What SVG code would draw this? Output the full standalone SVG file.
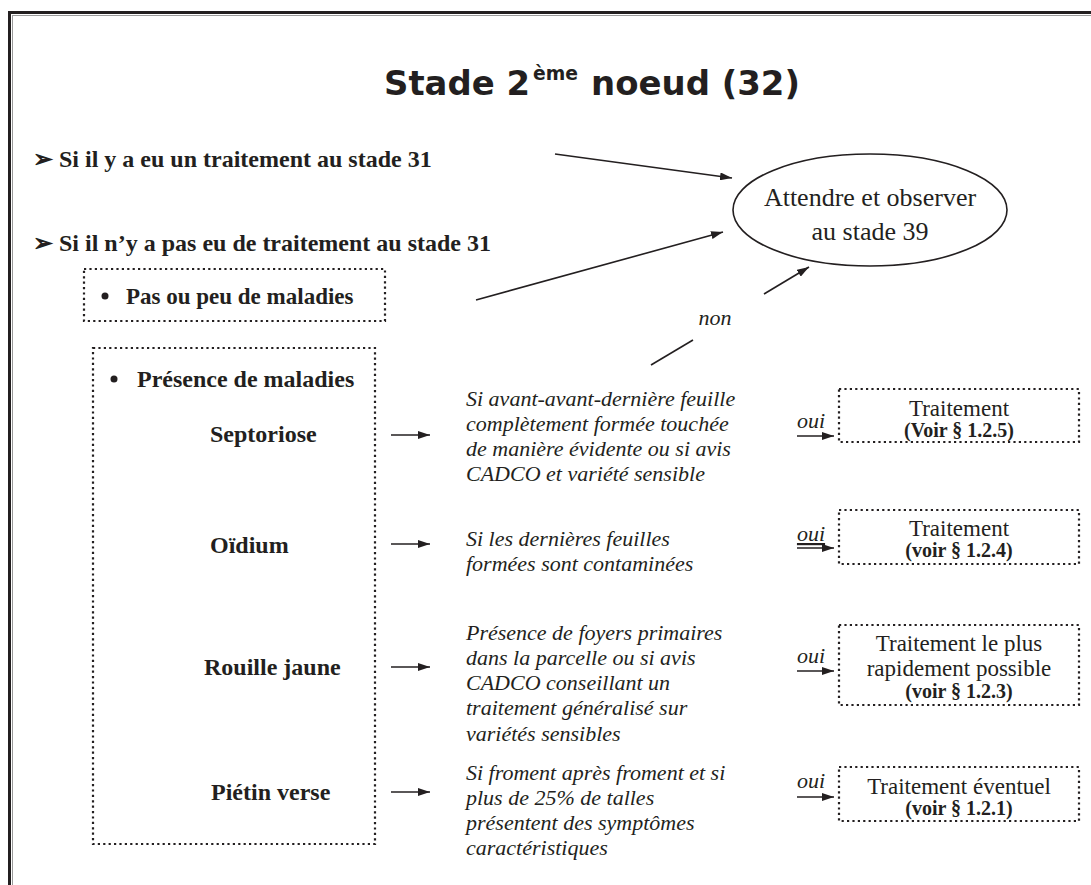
<svg xmlns="http://www.w3.org/2000/svg" width="1091" height="885" viewBox="0 0 1091 885">
<defs>
<style>
text{fill:#231f20}
.ser{font-family:"Liberation Serif","Times New Roman",serif}
.b{font-family:"Liberation Serif","Times New Roman",serif;font-weight:bold}
.it{font-family:"Liberation Serif","Times New Roman",serif;font-style:italic;font-size:22px}
.ttl{font-family:"DejaVu Sans",sans-serif;font-weight:bold}
.dot{fill:none;stroke:#231f20;stroke-width:2.2;stroke-dasharray:2.2 3.2}
.ln{fill:none;stroke:#231f20;stroke-width:1.6}
</style>
<marker id="ah" viewBox="0 0 12 8" refX="12" refY="4" markerWidth="12" markerHeight="8" markerUnits="userSpaceOnUse" orient="auto">
<path d="M0,0 L12,4 L0,8 z" fill="#231f20"/>
</marker>
</defs>
<rect width="1091" height="885" fill="#fff"/>
<g id="frame">
<rect x="9.5" y="12.5" width="1100" height="900" fill="none" stroke="#231f20" stroke-width="3"/>
<rect x="12.5" y="15.5" width="1100" height="900" fill="none" stroke="#9a9a9a" stroke-width="1"/>
</g>
<g id="title">
<text x="384" y="95" class="ttl" font-size="34" textLength="146" lengthAdjust="spacingAndGlyphs">Stade 2</text>
<text x="533" y="80" class="ttl" font-size="19" textLength="45" lengthAdjust="spacingAndGlyphs">ème</text>
<text x="591" y="95" class="ttl" font-size="34" textLength="209" lengthAdjust="spacingAndGlyphs">noeud (32)</text>
</g>
<g id="q1">
<text x="33" y="167" class="b" font-size="24">➢ Si il y a eu un traitement  au stade 31</text>
</g>
<g id="q2">
<text x="33" y="251" class="b" font-size="24">➢ Si il n’y a pas eu de traitement  au stade 31</text>
</g>
<g id="attendre">
<ellipse cx="870" cy="210" rx="137" ry="56" fill="none" stroke="#231f20" stroke-width="1.6"/>
<text x="870" y="206" class="ser" font-size="26" text-anchor="middle">Attendre et observer</text>
<text x="870" y="240" class="ser" font-size="26" text-anchor="middle">au stade 39</text>
</g>
<g id="peu">
<rect x="84" y="269" width="301" height="52" class="dot"/>
<circle cx="105" cy="296" r="3.5" fill="#231f20"/>
<text x="126" y="304" class="b" font-size="23">Pas ou peu de maladies</text>
</g>
<g id="presence">
<rect x="93" y="348" width="282" height="496" class="dot"/>
<circle cx="114" cy="379" r="3.5" fill="#231f20"/>
<text x="137" y="387" class="b" font-size="24">Présence de maladies</text>
<text x="210" y="442" class="b" font-size="24">Septoriose</text>
<text x="210" y="553" class="b" font-size="24">Oïdium</text>
<text x="204" y="675" class="b" font-size="24">Rouille jaune</text>
<text x="211" y="800" class="b" font-size="24">Piétin verse</text>
</g>
<g id="cond-septoriose">
<text class="it" x="466" y="406">Si avant-avant-dernière feuille</text>
<text class="it" x="466" y="431">complètement formée touchée</text>
<text class="it" x="466" y="456">de manière évidente ou si avis</text>
<text class="it" x="466" y="481">CADCO et variété sensible</text>
</g>
<g id="cond-oidium">
<text class="it" x="466" y="546">Si les dernières feuilles</text>
<text class="it" x="466" y="571">formées sont contaminées</text>
</g>
<g id="cond-rouille">
<text class="it" x="466" y="640">Présence de foyers primaires</text>
<text class="it" x="466" y="665">dans la parcelle ou si avis</text>
<text class="it" x="466" y="690">CADCO conseillant un</text>
<text class="it" x="466" y="715">traitement généralisé sur</text>
<text class="it" x="466" y="741">variétés sensibles</text>
</g>
<g id="cond-pietin">
<text class="it" x="466" y="780">Si froment après froment et si</text>
<text class="it" x="466" y="805">plus de 25% de talles</text>
<text class="it" x="466" y="830">présentent des symptômes</text>
<text class="it" x="466" y="855">caractéristiques</text>
</g>
<g id="t-septoriose">
<rect x="839" y="389" width="240" height="53" class="dot"/>
<text x="959" y="416" class="ser" font-size="23" text-anchor="middle">Traitement</text>
<text x="959" y="437" class="b" font-size="20" text-anchor="middle">(Voir § 1.2.5)</text>
</g>
<g id="t-oidium">
<rect x="839" y="510" width="240" height="54" class="dot"/>
<text x="959" y="536" class="ser" font-size="23" text-anchor="middle">Traitement</text>
<text x="959" y="557" class="b" font-size="20" text-anchor="middle">(voir § 1.2.4)</text>
</g>
<g id="t-rouille">
<rect x="839" y="625" width="240" height="80" class="dot"/>
<text x="959" y="651" class="ser" font-size="23" text-anchor="middle">Traitement le plus</text>
<text x="959" y="676" class="ser" font-size="23" text-anchor="middle">rapidement possible</text>
<text x="959" y="698" class="b" font-size="20" text-anchor="middle">(voir § 1.2.3)</text>
</g>
<g id="t-pietin">
<rect x="839" y="767" width="240" height="54" class="dot"/>
<text x="959" y="794" class="ser" font-size="23" text-anchor="middle">Traitement éventuel</text>
<text x="959" y="815" class="b" font-size="20" text-anchor="middle">(voir § 1.2.1)</text>
</g>
<g id="connectors">
<line x1="555" y1="154" x2="732" y2="178" class="ln" marker-end="url(#ah)"/>
<line x1="476" y1="300" x2="723" y2="232" class="ln" marker-end="url(#ah)"/>
<line x1="764" y1="294" x2="809" y2="267" class="ln" marker-end="url(#ah)"/>
<line x1="651" y1="365" x2="693" y2="340" class="ln"/>
<text x="715" y="325" class="it" font-size="20" text-anchor="middle">non</text>
<line x1="391" y1="435" x2="430" y2="435" class="ln" marker-end="url(#ah)"/>
<line x1="391" y1="544" x2="430" y2="544" class="ln" marker-end="url(#ah)"/>
<line x1="391" y1="667" x2="430" y2="667" class="ln" marker-end="url(#ah)"/>
<line x1="391" y1="792" x2="430" y2="792" class="ln" marker-end="url(#ah)"/>
<text x="811" y="428" class="it" font-size="19" text-anchor="middle">oui</text>
<line x1="797" y1="436" x2="834" y2="436" class="ln" marker-end="url(#ah)"/>
<text x="811" y="541" class="it" font-size="19" text-anchor="middle" text-decoration="underline">oui</text>
<line x1="797" y1="548" x2="834" y2="548" class="ln" marker-end="url(#ah)"/>
<text x="811" y="663" class="it" font-size="19" text-anchor="middle">oui</text>
<line x1="797" y1="671" x2="834" y2="671" class="ln" marker-end="url(#ah)"/>
<text x="811" y="788" class="it" font-size="19" text-anchor="middle">oui</text>
<line x1="797" y1="797" x2="834" y2="797" class="ln" marker-end="url(#ah)"/>
</g>
</svg>
